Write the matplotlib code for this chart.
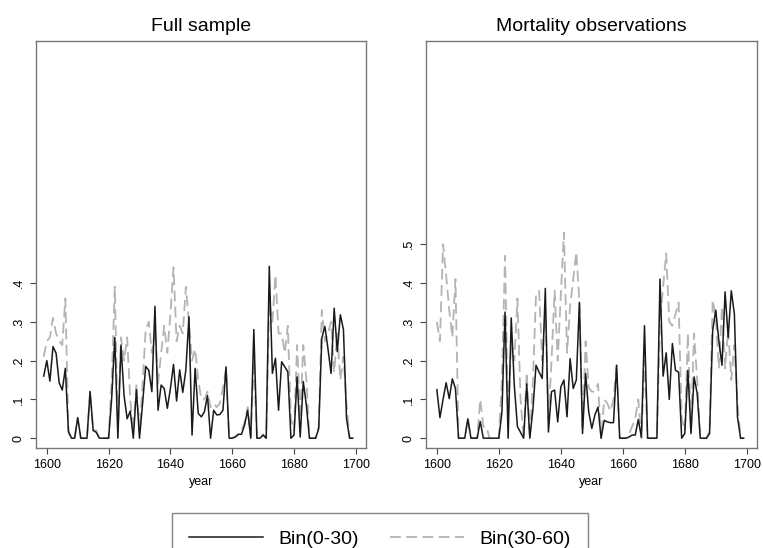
import numpy as np
import matplotlib
matplotlib.use("Agg")
import matplotlib.pyplot as plt
from matplotlib.lines import Line2D

plt.rcParams['font.family'] = ['Liberation Sans', 'DejaVu Sans']

# Full sample, years start 1599
full_start = 1599
full_bin0_30 = [0.16, 0.20, 0.147, 0.236, 0.219, 0.143, 0.124, 0.18, 0.016, 0, 0, 0.053, 0, 0, 0,
                0.12, 0.02, 0.015, 0, 0, 0, 0, 0.104, 0.26, 0, 0.24, 0.11, 0.05, 0.07, 0, 0.125,
                0, 0.09, 0.185, 0.175, 0.12, 0.34, 0.072, 0.137, 0.128, 0.077, 0.128, 0.19, 0.096,
                0.176, 0.118, 0.176, 0.313, 0.008, 0.18, 0.064, 0.055, 0.068, 0.11, 0, 0.072, 0.06,
                0.061, 0.072, 0.184, 0, 0, 0.003, 0.01, 0.01, 0.034, 0.072, 0, 0.28, 0, 0, 0.008,
                0, 0.443, 0.167, 0.206, 0.072, 0.197, 0.184, 0.171, 0, 0.008, 0.158, 0.003, 0.146,
                0.085, 0, 0, 0, 0.025, 0.258, 0.288, 0.23, 0.167, 0.335, 0.223, 0.318, 0.28, 0.05,
                0, 0]
full_bin30_60 = [0.21, 0.25, 0.26, 0.31, 0.27, 0.25, 0.24, 0.36, 0.02, 0, 0, 0.05, 0, 0, 0,
                 0.12, 0.02, 0.02, 0, 0, 0, 0, 0.15, 0.39, 0.02, 0.26, 0.2, 0.26, 0.1, 0.02, 0.14,
                 0.02, 0.14, 0.28, 0.3, 0.22, 0.28, 0.14, 0.22, 0.29, 0.22, 0.32, 0.44, 0.25, 0.29,
                 0.27, 0.39, 0.30, 0.2, 0.23, 0.15, 0.1, 0.1, 0.12, 0.08, 0.09, 0.08, 0.09, 0.13,
                 0.18, 0, 0, 0.005, 0.01, 0.02, 0.04, 0.08, 0.005, 0.2, 0, 0, 0.01, 0, 0.35, 0.3,
                 0.42, 0.27, 0.27, 0.22, 0.29, 0.05, 0.02, 0.24, 0.05, 0.24, 0.15, 0, 0, 0, 0.03,
                 0.33, 0.25, 0.27, 0.3, 0.17, 0.27, 0.15, 0.21, 0.09, 0, 0]

# Mortality observations, years start 1600
mort_start = 1600
mort_bin0_30 = [0.125, 0.053, 0.1, 0.143, 0.102, 0.153, 0.128, 0, 0, 0, 0.05, 0, 0, 0, 0.043,
                0, 0, 0, 0, 0, 0, 0.067, 0.325, 0, 0.31, 0.135, 0.03, 0.015, 0, 0.14, 0, 0.075,
                0.188, 0.17, 0.154, 0.386, 0.016, 0.12, 0.124, 0.042, 0.132, 0.15, 0.055, 0.205,
                0.128, 0.15, 0.35, 0.012, 0.167, 0.068, 0.025, 0.06, 0.08, 0, 0.046, 0.042, 0.04,
                0.04, 0.188, 0, 0, 0, 0.003, 0.008, 0.008, 0.048, 0.003, 0.29, 0, 0, 0, 0, 0.41,
                0.16, 0.22, 0.1, 0.244, 0.175, 0.17, 0, 0.012, 0.175, 0.012, 0.158, 0.115, 0, 0,
                0, 0.012, 0.278, 0.33, 0.25, 0.188, 0.377, 0.26, 0.38, 0.32, 0.055, 0, 0]
mort_bin30_60 = [0.3, 0.25, 0.5, 0.42, 0.33, 0.26, 0.41, 0, 0, 0, 0.05, 0, 0, 0, 0.1, 0.03,
                 0.03, 0, 0, 0, 0, 0.15, 0.47, 0.05, 0.25, 0.2, 0.36, 0.1, 0, 0.17, 0, 0.15, 0.37,
                 0.38, 0.2, 0.33, 0.05, 0.2, 0.38, 0.2, 0.37, 0.53, 0.22, 0.34, 0.41, 0.48, 0.35,
                 0.02, 0.25, 0.13, 0.12, 0.12, 0.14, 0, 0.1, 0.09, 0.07, 0.1, 0.19, 0, 0, 0, 0.01,
                 0.03, 0.05, 0.1, 0, 0.2, 0, 0, 0, 0, 0.3, 0.39, 0.476, 0.3, 0.29, 0.32, 0.35,
                 0.05, 0.02, 0.27, 0.03, 0.27, 0.15, 0, 0, 0, 0.02, 0.356, 0.31, 0.18, 0.34, 0.18,
                 0.28, 0.15, 0.24, 0.09, 0, 0]

panels = [
    ("Full sample", full_start, full_bin0_30, full_bin30_60, [0, 0.1, 0.2, 0.3, 0.4]),
    ("Mortality observations", mort_start, mort_bin0_30, mort_bin30_60, [0, 0.1, 0.2, 0.3, 0.4, 0.5]),
]
xticks = [1600, 1620, 1640, 1660, 1680, 1700]

fig = plt.figure(figsize=(7.63, 5.48), dpi=100)
axes_pos = [[36 / 763, 1 - 447.5 / 548, 330 / 763, 407 / 548],
            [426 / 763, 1 - 447.5 / 548, 331 / 763, 407 / 548]]

for pos, (title, start, b1, b2, yt) in zip(axes_pos, panels):
    ax = fig.add_axes(pos)
    yrs1 = np.arange(start, start + len(b1))
    yrs2 = np.arange(start, start + len(b2))
    ax.plot(yrs2, b2, color='#b4b4b4', lw=1.3, ls=(0, (6, 3)))
    ax.plot(yrs1, b1, color='#1a1a1a', lw=1.1)
    ax.set_xlim(1596.5, 1703.3)
    ax.set_ylim(-0.024, 1.025)
    ax.set_xticks(xticks)
    ax.set_yticks(yt)
    ax.set_yticklabels(['0'] + [('%.1f' % v)[1:] for v in yt[1:]], rotation=90, va='center')
    ax.tick_params(labelsize=9, length=4, color='#444444', pad=4)
    ax.set_xlabel('year', fontsize=9, labelpad=4)
    ax.set_title(title, fontsize=14, pad=7)
    for s in ax.spines.values():
        s.set_color('#777777')
        s.set_linewidth(1.0)

handles = [Line2D([], [], color='#1a1a1a', lw=1.1),
           Line2D([], [], color='#b4b4b4', lw=1.3, ls=(0, (6, 3)))]
leg = fig.legend(handles, ['Bin(0-30)', 'Bin(30-60)'], loc='upper center',
                 bbox_to_anchor=(380 / 763, 1 - 513 / 548), ncol=2, fontsize=14,
                 frameon=True, fancybox=False, handlelength=3.8, columnspacing=1.6,
                 borderpad=0.9, handletextpad=0.8, borderaxespad=0)
leg.get_frame().set_edgecolor('#666666')
leg.get_frame().set_linewidth(1.0)

fig.savefig('out.png', dpi=100)
